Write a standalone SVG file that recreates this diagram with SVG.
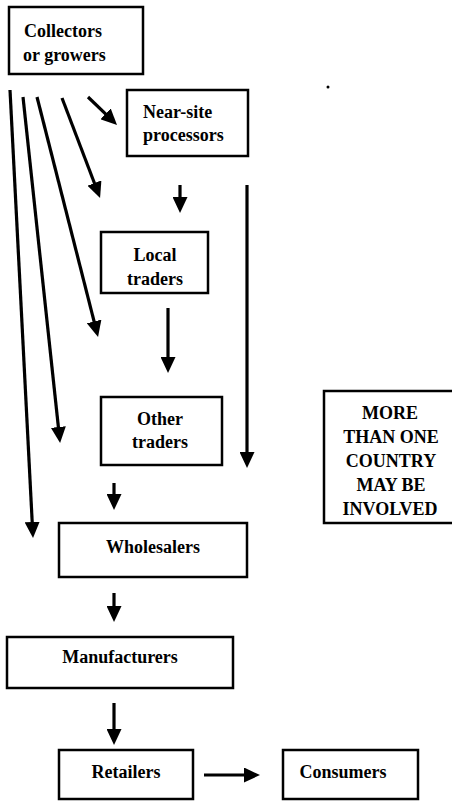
<svg xmlns="http://www.w3.org/2000/svg" width="452" height="801" viewBox="0 0 452 801">
<style>
  .box { fill: #fff; stroke: #000; stroke-width: 2.5; }
  .lbl { font-family: 'Liberation Serif', 'DejaVu Serif', serif; font-size: 18px; font-weight: bold; fill: #000; }
  .mid { text-anchor: middle; }
  .conn { fill: none; stroke: #000; stroke-width: 3.2; marker-end: url(#ah); }
</style>
<defs>
  <marker id="ah" markerUnits="userSpaceOnUse" markerWidth="16" markerHeight="15" refX="4" refY="7.5" orient="auto">
    <path d="M0,0 L16,7.5 L0,15 z" fill="#000"/>
  </marker>
</defs>
<rect width="452" height="801" fill="#fff"/>

<g id="connectors">
  <line class="conn" x1="10" y1="90" x2="32.4" y2="526"/>
  <line class="conn" x1="23" y1="97" x2="58.8" y2="431"/>
  <line class="conn" x1="37" y1="97" x2="95.1" y2="325.3"/>
  <line class="conn" x1="62" y1="98" x2="95.8" y2="186.8"/>
  <line class="conn" x1="88" y1="97" x2="108.4" y2="116.7"/>
  <line class="conn" x1="180" y1="185" x2="180" y2="201"/>
  <line class="conn" x1="247" y1="185" x2="247" y2="456"/>
  <line class="conn" x1="168" y1="308" x2="168" y2="361"/>
  <line class="conn" x1="114" y1="483" x2="114" y2="498"/>
  <line class="conn" x1="114" y1="593" x2="114" y2="610"/>
  <line class="conn" x1="114" y1="703" x2="114" y2="733"/>
  <line class="conn" x1="204" y1="775" x2="248" y2="775"/>
</g>

<g id="collectors">
  <rect class="box" x="9" y="7" width="134" height="67"/>
  <text class="lbl" x="24" y="37">Collectors</text>
  <text class="lbl" x="23" y="61">or growers</text>
</g>
<g id="near-site">
  <rect class="box" x="127" y="90" width="121" height="66"/>
  <text class="lbl" x="143" y="118">Near-site</text>
  <text class="lbl" x="143" y="141">processors</text>
</g>
<g id="local-traders">
  <rect class="box" x="101" y="232" width="107" height="61"/>
  <text class="lbl mid" x="155" y="261">Local</text>
  <text class="lbl mid" x="155" y="285">traders</text>
</g>
<g id="other-traders">
  <rect class="box" x="101" y="397" width="121" height="68"/>
  <text class="lbl mid" x="160" y="425">Other</text>
  <text class="lbl mid" x="160" y="448">traders</text>
</g>
<g id="wholesalers">
  <rect class="box" x="59" y="523" width="188" height="54"/>
  <text class="lbl mid" x="153" y="553">Wholesalers</text>
</g>
<g id="manufacturers">
  <rect class="box" x="7" y="637" width="226" height="51"/>
  <text class="lbl mid" x="120" y="663">Manufacturers</text>
</g>
<g id="retailers">
  <rect class="box" x="59" y="750" width="134" height="49"/>
  <text class="lbl mid" x="126" y="778">Retailers</text>
</g>
<g id="consumers">
  <rect class="box" x="283" y="750" width="135" height="49"/>
  <text class="lbl mid" x="343" y="778">Consumers</text>
</g>
<g id="note">
  <rect class="box" x="324" y="391" width="140" height="132"/>
  <text class="lbl mid" x="390" y="419">MORE</text>
  <text class="lbl mid" x="391" y="443">THAN ONE</text>
  <text class="lbl mid" x="391" y="467">COUNTRY</text>
  <text class="lbl mid" x="391" y="491">MAY BE</text>
  <text class="lbl mid" x="390" y="515">INVOLVED</text>
</g>
<circle cx="328" cy="87" r="1.5" fill="#000"/>
</svg>
